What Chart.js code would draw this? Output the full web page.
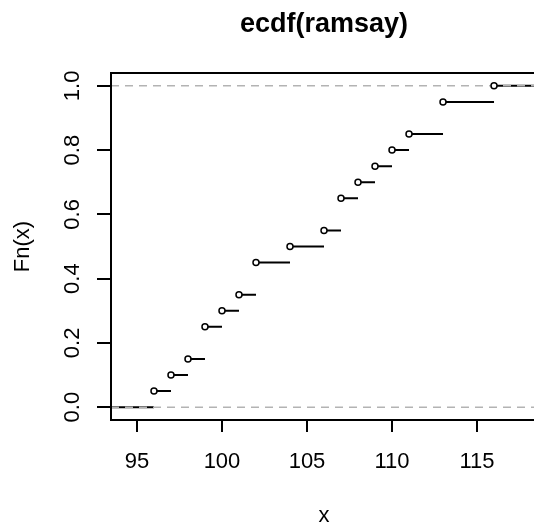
<!DOCTYPE html>
<html><head><meta charset="utf-8">
<script src="https://cdn.jsdelivr.net/npm/chart.js@4.4.0/dist/chart.umd.min.js"></script>
<style>html,body{margin:0;padding:0;overflow:hidden;background:#fff;} #wrap{width:545px;height:529px;}</style>
</head><body><div id="wrap"><canvas id="c" width="545" height="529"></canvas></div>
<script>
// ---- data ----
const knots = [96, 97, 98, 99, 100, 101, 102, 104, 106, 107, 108, 109, 110, 111, 113, 116];
const fnValues = [0.05, 0.10, 0.15, 0.25, 0.30, 0.35, 0.45, 0.50, 0.55, 0.65, 0.70, 0.75, 0.80, 0.85, 0.95, 1.00];
const xTicks = [95, 100, 105, 110, 115];
const yTicks = [0, 0.2, 0.4, 0.6, 0.8, 1.0];
const xRange = [93.472, 118.528];
const yRange = [-0.04, 1.04];
const refLines = [0, 1];
const titleText = 'ecdf(ramsay)';
const xLabel = 'x';
const yLabel = 'Fn(x)';

const FONT = "'Liberation Sans', Arial, sans-serif";

// horizontal step segments
const stepData = [];
stepData.push({x: xRange[0], y: 0}, {x: knots[0], y: 0}, {x: knots[0], y: null});
knots.forEach((k, i) => {
  const end = i + 1 < knots.length ? knots[i + 1] : xRange[1];
  stepData.push({x: k, y: fnValues[i]}, {x: end, y: fnValues[i]}, {x: end, y: null});
});
const refData = [];
refLines.forEach(v => { refData.push({x: xRange[0], y: v}, {x: xRange[1], y: v}, {x: xRange[1], y: null}); });
const pointData = knots.map((k, i) => ({x: k, y: fnValues[i]}));

const boxPlugin = {
  id: 'box',
  afterDraw(chart) {
    const {ctx, chartArea: a} = chart;
    ctx.save();
    ctx.strokeStyle = '#000';
    ctx.lineWidth = 2;
    ctx.strokeRect(a.left, a.top, a.right - a.left, a.bottom - a.top);
    ctx.restore();
  }
};

new Chart(document.getElementById('c'), {
  type: 'scatter',
  data: {
    datasets: [
      {data: pointData, order: 0, pointRadius: 3, pointHoverRadius: 3, pointBorderWidth: 1.5,
       pointBackgroundColor: '#fff', pointBorderColor: '#000', showLine: false},
      {data: refData, order: 1, showLine: true, borderColor: '#b3b3b3', borderWidth: 1.5,
       borderDash: [8, 6], pointRadius: 0, spanGaps: false},
      {data: stepData, order: 2, showLine: true, borderColor: '#000', borderWidth: 2,
       pointRadius: 0, spanGaps: false}
    ]
  },
  options: {
    responsive: false,
    animation: false,
    devicePixelRatio: 1,
    layout: {padding: {left: 0, right: 8, top: 0, bottom: 0}},
    plugins: {
      legend: {display: false},
      tooltip: {enabled: false},
      title: {display: true, text: titleText, fullSize: false, color: '#000',
              font: {family: FONT, size: 27, weight: 'bold', lineHeight: 1.2},
              padding: {top: 8, bottom: 32.6}}
    },
    scales: {
      x: {
        type: 'linear', min: xRange[0], max: xRange[1],
        afterBuildTicks: s => { s.ticks = xTicks.map(v => ({value: v})); },
        afterFit: s => { s.height = 109; },
        grid: {drawOnChartArea: false, drawTicks: true, tickLength: 12, tickWidth: 2, tickColor: '#000', color: '#000', lineWidth: 2},
        border: {display: true, color: '#000', width: 2},
        ticks: {color: '#000', font: {family: FONT, size: 22, lineHeight: 1.2}, padding: 17, maxRotation: 0, autoSkip: false},
        title: {display: true, text: xLabel, color: '#000', font: {family: FONT, size: 22, lineHeight: 1.2}, padding: {top: 0, bottom: 0}}
      },
      y: {
        type: 'linear', min: yRange[0], max: yRange[1],
        afterBuildTicks: s => { s.ticks = yTicks.map(v => ({value: v})); },
        afterFit: s => { s.width = 111; },
        grid: {drawOnChartArea: false, drawTicks: true, tickLength: 14, tickWidth: 2, tickColor: '#000', color: '#000', lineWidth: 2},
        border: {display: true, color: '#000', width: 2},
        ticks: {color: '#000', font: {family: FONT, size: 22, lineHeight: 1.2}, padding: 9, minRotation: 90, maxRotation: 90,
                crossAlign: 'center', autoSkip: false, callback: v => Number(v).toFixed(1)},
        title: {display: true, text: yLabel, color: '#000', font: {family: FONT, size: 22, lineHeight: 1.2}, padding: {top: 10, bottom: 0}}
      }
    }
  },
  plugins: [boxPlugin]
});
</script>
</body></html>
